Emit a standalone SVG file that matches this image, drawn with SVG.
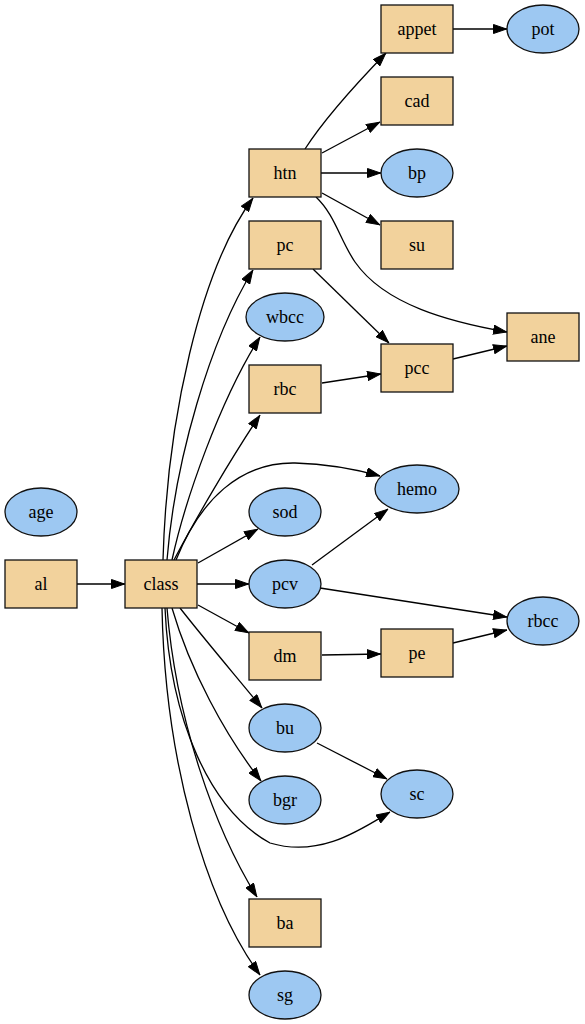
<svg xmlns="http://www.w3.org/2000/svg" width="585" height="1024" viewBox="0 0 585 1024">
<style>
.box{fill:#f2d29c;stroke:#111;stroke-width:1.3}
.ell{fill:#9dc8f2;stroke:#111;stroke-width:1.3}
text{font-family:"Liberation Serif","Times New Roman",serif;font-size:18px;fill:#000;text-anchor:middle;dominant-baseline:central}
.e{fill:none;stroke:#000;stroke-width:1.3;marker-end:url(#ah)}
</style>
<defs>
<marker id="ah" viewBox="0 0 14 10" refX="14" refY="5" markerWidth="14" markerHeight="10" markerUnits="userSpaceOnUse" orient="auto">
<polygon points="0.5,0.5 13.5,5 0.5,9.5" fill="#000" stroke="#000" stroke-width="1"/>
</marker>
</defs>
<rect width="585" height="1024" fill="#fff"/>
<g id="connectors">
<path class="e" d="M77,584 L125,584"/>
<path class="e" d="M163,560 C167,420 200,270 253,198"/>
<path class="e" d="M167,560 C175,460 210,340 253,270"/>
<path class="e" d="M172,560 C185,500 220,400 260,337"/>
<path class="e" d="M174,560 C195,520 230,460 260,415"/>
<path class="e" d="M176,560 C200,500 240,462 295,463 C330,464 355,469 380,476"/>
<path class="e" d="M198,563 L258,529"/>
<path class="e" d="M197,584 L249,584"/>
<path class="e" d="M198,605 L249,633"/>
<path class="e" d="M180,608 C205,640 235,675 262,708"/>
<path class="e" d="M172,608 C190,670 225,735 261,781"/>
<path class="e" d="M165,608 C170,720 210,810 270,843 C320,858 360,830 390,812"/>
<path class="e" d="M167,608 C176,720 215,830 257,897"/>
<path class="e" d="M162,608 C165,760 205,900 260,975"/>
<path class="e" d="M305,149 C325,118 355,85 386,53"/>
<path class="e" d="M322,153 L380,122"/>
<path class="e" d="M321,173 L381,173"/>
<path class="e" d="M322,193 L380,225"/>
<path class="e" d="M316,197 C335,215 340,240 355,262 C385,305 450,322 507,332"/>
<path class="e" d="M453,29 L507,29"/>
<path class="e" d="M313,269 L389,343"/>
<path class="e" d="M322,383 L381,374"/>
<path class="e" d="M453,359 L507,346"/>
<path class="e" d="M312,565 L388,509"/>
<path class="e" d="M320,588 L507,617"/>
<path class="e" d="M453,643 L507,630"/>
<path class="e" d="M322,655 L381,654"/>
<path class="e" d="M317,743 L387,779"/>
</g>
<g id="appet"><rect class="box" x="381" y="5" width="72" height="48"/><text x="417" y="29">appet</text></g>
<g id="pot"><ellipse class="ell" cx="543" cy="29" rx="36" ry="24"/><text x="543" y="29">pot</text></g>
<g id="cad"><rect class="box" x="381" y="77" width="72" height="48"/><text x="417" y="101">cad</text></g>
<g id="htn"><rect class="box" x="249" y="149" width="72" height="48"/><text x="285" y="173">htn</text></g>
<g id="bp"><ellipse class="ell" cx="417" cy="173" rx="36" ry="24"/><text x="417" y="173">bp</text></g>
<g id="su"><rect class="box" x="381" y="221" width="72" height="48"/><text x="417" y="245">su</text></g>
<g id="pc"><rect class="box" x="249" y="221" width="72" height="48"/><text x="285" y="245">pc</text></g>
<g id="wbcc"><ellipse class="ell" cx="285" cy="317" rx="39" ry="24"/><text x="285" y="317">wbcc</text></g>
<g id="ane"><rect class="box" x="507" y="313" width="72" height="48"/><text x="543" y="337">ane</text></g>
<g id="pcc"><rect class="box" x="381" y="344" width="72" height="48"/><text x="417" y="368">pcc</text></g>
<g id="rbc"><rect class="box" x="249" y="365" width="72" height="48"/><text x="285" y="389">rbc</text></g>
<g id="hemo"><ellipse class="ell" cx="417" cy="489" rx="42" ry="24"/><text x="417" y="489">hemo</text></g>
<g id="age"><ellipse class="ell" cx="41" cy="512" rx="36" ry="24"/><text x="41" y="512">age</text></g>
<g id="sod"><ellipse class="ell" cx="285" cy="512" rx="36" ry="24"/><text x="285" y="512">sod</text></g>
<g id="al"><rect class="box" x="5" y="560" width="72" height="48"/><text x="41" y="584">al</text></g>
<g id="class"><rect class="box" x="125" y="560" width="72" height="48"/><text x="161" y="584">class</text></g>
<g id="pcv"><ellipse class="ell" cx="285" cy="584" rx="36" ry="24"/><text x="285" y="584">pcv</text></g>
<g id="rbcc"><ellipse class="ell" cx="543" cy="621" rx="36" ry="24"/><text x="543" y="621">rbcc</text></g>
<g id="dm"><rect class="box" x="249" y="632" width="72" height="48"/><text x="285" y="656">dm</text></g>
<g id="pe"><rect class="box" x="381" y="629" width="72" height="48"/><text x="417" y="653">pe</text></g>
<g id="bu"><ellipse class="ell" cx="285" cy="728" rx="36" ry="24"/><text x="285" y="728">bu</text></g>
<g id="sc"><ellipse class="ell" cx="417" cy="794" rx="36" ry="24"/><text x="417" y="794">sc</text></g>
<g id="bgr"><ellipse class="ell" cx="285" cy="800" rx="36" ry="24"/><text x="285" y="800">bgr</text></g>
<g id="ba"><rect class="box" x="249" y="899" width="72" height="48"/><text x="285" y="923">ba</text></g>
<g id="sg"><ellipse class="ell" cx="285" cy="995" rx="36" ry="24"/><text x="285" y="995">sg</text></g>
</svg>
